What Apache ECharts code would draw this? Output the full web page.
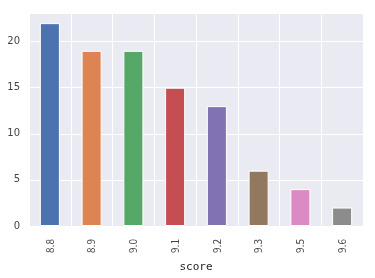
<!DOCTYPE html>
<html><head><meta charset="utf-8">
<script src="https://cdn.jsdelivr.net/npm/echarts@6/dist/echarts.min.js"></script>
<style>html,body{margin:0;padding:0;background:#fff}#c{width:375px;height:278px}</style>
</head><body><div id="c"></div>
<script>
var categories = ['8.8','8.9','9.0','9.1','9.2','9.3','9.5','9.6'];
var values = [22,19,19,15,13,6,4,2];
var colors = ['#4C72B0','#DD8452','#55A868','#C44E52','#8172B3','#937860','#DA8BC3','#8C8C8C'];
var yTicks = [0,5,10,15,20];
var chart = echarts.init(document.getElementById('c'), null, {renderer:'canvas'});
chart.setOption({
  animation:false,
  grid:{left:29,top:13,right:12,bottom:48,show:true,backgroundColor:'#EAEAF2',borderWidth:0},
  xAxis:{type:'category',data:categories,name:'score',nameLocation:'middle',nameGap:36,
    nameTextStyle:{color:'#262626',fontSize:11,fontFamily:'DejaVu Sans Mono'},
    axisLine:{show:false},axisTick:{show:false},
    axisLabel:{rotate:90,margin:13,fontSize:10,color:'#444',fontFamily:'Noto Sans CJK SC'},
    splitLine:{show:true,lineStyle:{color:'#fff',width:1}}},
  yAxis:{type:'value',min:0,max:23.1,interval:5,
    axisLine:{show:false},axisTick:{show:false},
    axisLabel:{fontSize:10,color:'#444',margin:9,fontFamily:'DejaVu Sans',
      formatter:function(v){return yTicks.indexOf(v)>=0?String(v):'';}},
    splitLine:{show:true,lineStyle:{color:'#fff',width:1}}},
  series:[{type:'bar',barWidth:'48%',
    data:values.map(function(v,i){return {value:v,itemStyle:{color:colors[i]}};}),
    itemStyle:{borderColor:'#fff',borderWidth:1}}]
});
</script></body></html>
